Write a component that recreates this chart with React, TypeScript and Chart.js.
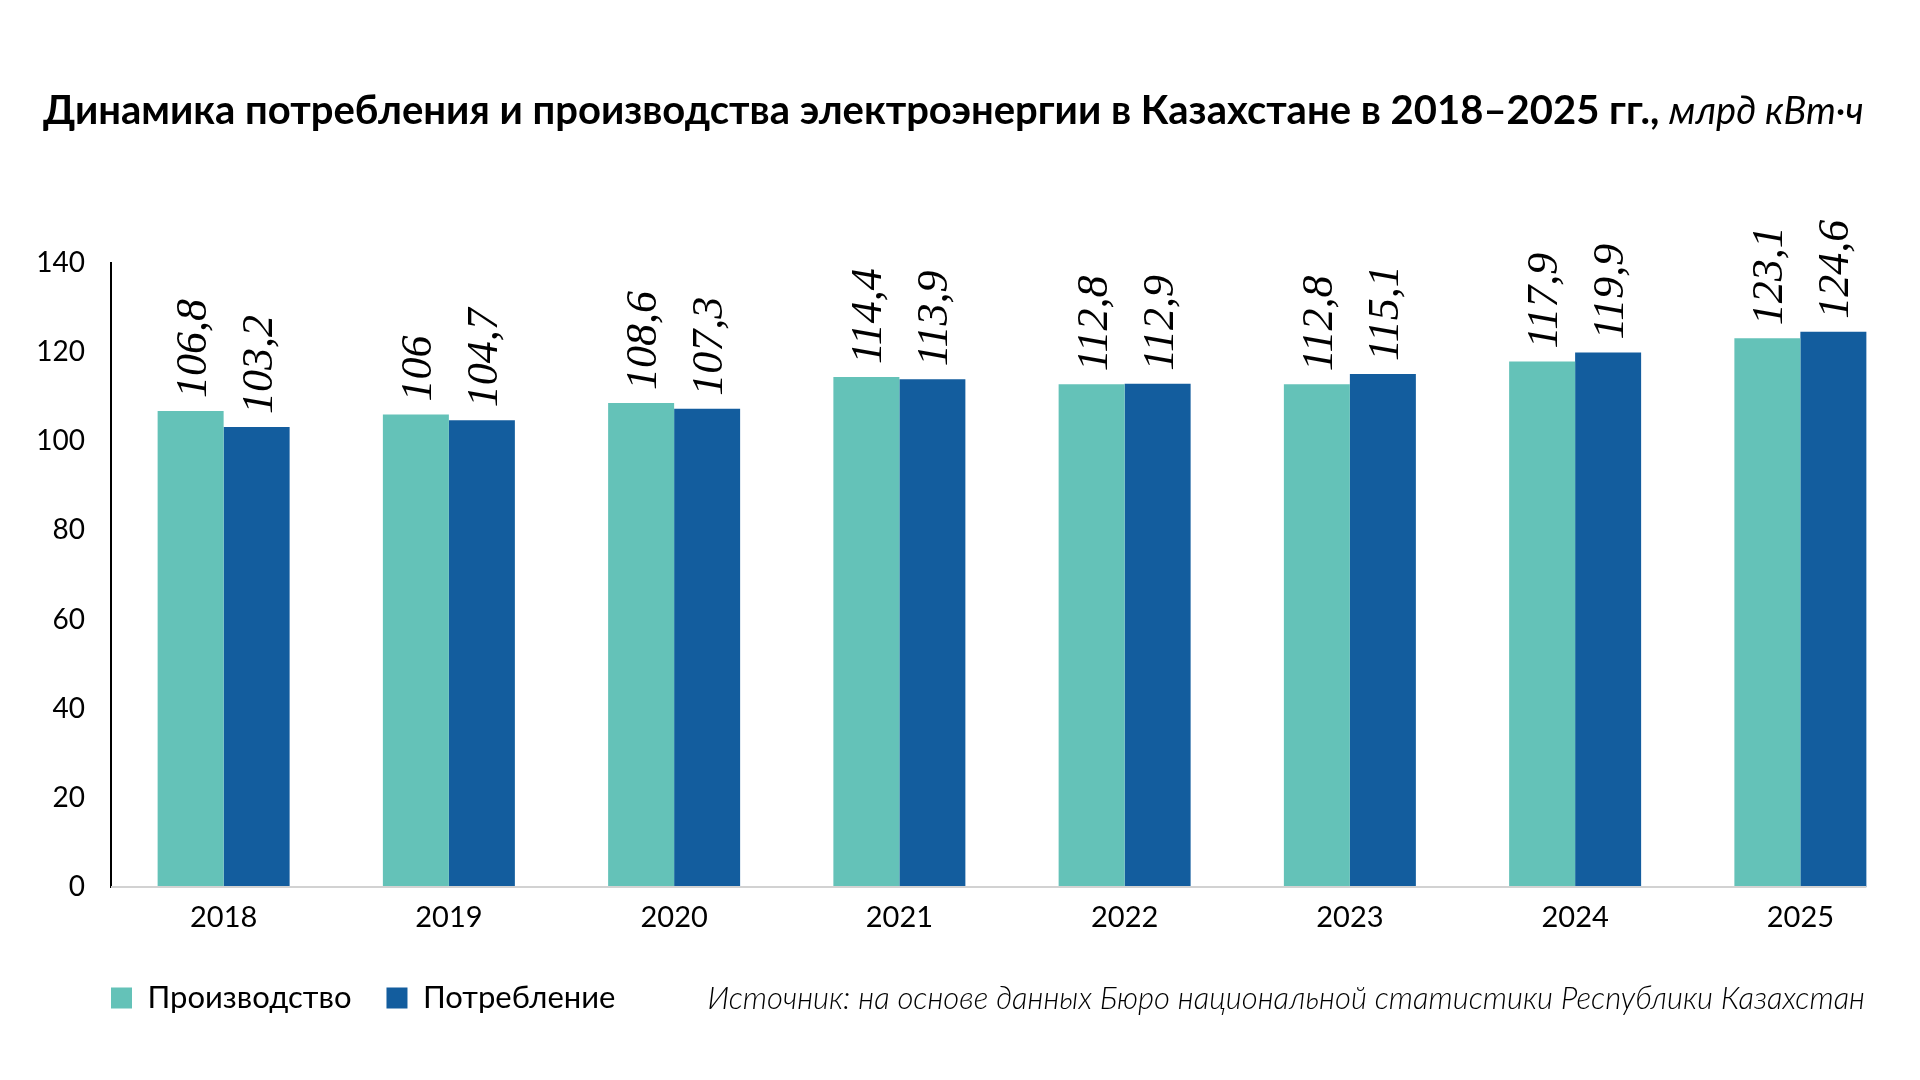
import React, { useEffect, useRef } from 'react';
import { Chart, registerables } from 'chart.js';

Chart.register(...registerables);

// data
const years = ['2018', '2019', '2020', '2021', '2022', '2023', '2024', '2025'];
const production = [106.8, 106, 108.6, 114.4, 112.8, 112.8, 117.9, 123.1];
const consumption = [103.2, 104.7, 107.3, 113.9, 112.9, 115.1, 119.9, 124.6];
const seriesNames = ['Производство', 'Потребление'];
const yMin = 0;
const yMax = 140;
const yStep = 20;

const TEAL = '#64c2b8';
const BLUE = '#135d9e';
const SANS = 'Lato, "Noto Sans", sans-serif';

const fmt = (v: number) => String(v).replace('.', ',');

// rotated italic numbers above each bar
const valueLabels = {
  id: 'valueLabels',
  afterDatasetsDraw(chart: Chart) {
    const { ctx } = chart;
    ctx.save();
    ctx.font = 'italic 44px "Liberation Serif", serif';
    ctx.fillStyle = '#000';
    ctx.textAlign = 'left';
    ctx.textBaseline = 'alphabetic';
    chart.data.datasets.forEach((ds, i) => {
      chart.getDatasetMeta(i).data.forEach((bar: any, j: number) => {
        ctx.save();
        ctx.translate(bar.x + 15, bar.y - 13);
        ctx.rotate(-Math.PI / 2);
        ctx.fillText(fmt(ds.data[j] as number), 0, 0);
        ctx.restore();
      });
    });
    ctx.restore();
  },
};

// grey baseline, stops at the last bar like in the original
const baseline = {
  id: 'baseline',
  afterDatasetsDraw(chart: Chart) {
    const { ctx, chartArea, scales } = chart;
    const meta = chart.getDatasetMeta(chart.data.datasets.length - 1);
    const last: any = meta.data[meta.data.length - 1];
    if (!last) return;
    const y = scales.y.getPixelForValue(0);
    ctx.save();
    ctx.strokeStyle = '#d2d2d2';
    ctx.lineWidth = 2;
    ctx.beginPath();
    ctx.moveTo(chartArea.left, y);
    ctx.lineTo(last.x + last.width / 2, y);
    ctx.stroke();
    ctx.restore();
  },
};

// legend starts under the y axis line instead of the canvas edge
const legendShift = {
  id: 'legendShift',
  afterLayout(chart: any) {
    if (chart.legend) chart.legend.left = 76;
  },
};

const App: React.FC = () => {
  const canvasRef = useRef<HTMLCanvasElement>(null);
  const chartRef = useRef<Chart | null>(null);

  useEffect(() => {
    if (!canvasRef.current) return;
    const ctx = canvasRef.current.getContext('2d');
    if (!ctx) return;

    if (chartRef.current) chartRef.current.destroy();

    chartRef.current = new Chart(ctx, {
      type: 'bar',
      data: {
        labels: years,
        datasets: [
          { label: seriesNames[0], data: production, backgroundColor: TEAL, borderWidth: 0 },
          { label: seriesNames[1], data: consumption, backgroundColor: BLUE, borderWidth: 0 },
        ],
      },
      options: {
        responsive: false,
        animation: false,
        datasets: { bar: { categoryPercentage: 0.586, barPercentage: 1 } },
        layout: { padding: { top: 263, left: 0, right: 7, bottom: 56.5 } },
        plugins: {
          legend: {
            position: 'bottom',
            align: 'start',
            labels: {
              boxWidth: 21,
              boxHeight: 21,
              padding: 35,
              color: '#000',
              font: { family: SANS, size: 31 },
            },
          },
          tooltip: { enabled: false },
        },
        scales: {
          x: {
            grid: { display: false, drawTicks: false },
            border: { display: false },
            ticks: { color: '#000', font: { family: SANS, size: 29 }, padding: 13, maxRotation: 0 },
            afterFit: (s: any) => {
              s.height = 60.5;
            },
          },
          y: {
            min: yMin,
            max: yMax,
            grid: { display: false, drawTicks: false },
            border: { display: true, color: '#000', width: 2 },
            ticks: { stepSize: yStep, color: '#000', font: { family: SANS, size: 28 }, padding: 26 },
            afterFit: (s: any) => {
              s.width = 111;
            },
          },
        },
      },
      plugins: [baseline, valueLabels, legendShift],
    });

    return () => {
      if (chartRef.current) {
        chartRef.current.destroy();
        chartRef.current = null;
      }
    };
  }, []);

  return (
    <div style={{ position: 'fixed', left: 0, top: 0, width: 1920, height: 1080, background: '#fff' }}>
      <canvas ref={canvasRef} width={1920} height={1080} style={{ position: 'absolute', left: 0, top: 0 }} />
      <div
        style={{
          position: 'absolute',
          left: 43,
          top: 89,
          fontFamily: SANS,
          fontSize: 40,
          lineHeight: 1,
          fontWeight: 700,
          whiteSpace: 'nowrap',
          color: '#000',
        }}
      >
        Динамика потребления и производства электроэнергии в Казахстане в 2018–2025 гг.,{' '}
        <span style={{ fontStyle: 'italic', fontWeight: 400, fontSize: 38 }}>млрд кВт·ч</span>
      </div>
      <div
        style={{
          position: 'absolute',
          right: 55,
          top: 982,
          fontFamily: SANS,
          fontSize: 31,
          lineHeight: 1,
          fontStyle: 'italic',
          fontWeight: 300,
          whiteSpace: 'nowrap',
          color: '#000',
        }}
      >
        Источник: на основе данных Бюро национальной статистики Республики Казахстан
      </div>
    </div>
  );
};

export default App;
